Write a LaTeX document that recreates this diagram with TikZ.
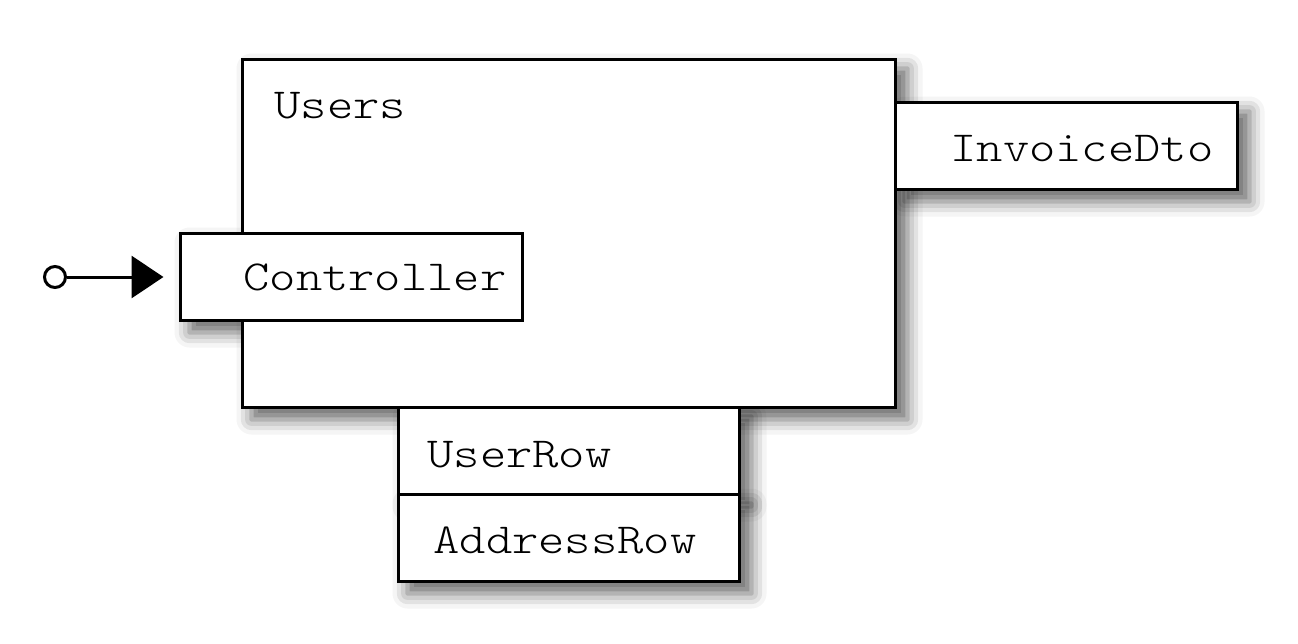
\documentclass[tikz,border=0pt]{standalone}
\usepackage{fontspec}
\newfontfamily\courfont[FakeStretch=1.17]{Latin Modern Mono Light}
\usetikzlibrary{arrows.meta,positioning,backgrounds,shadows.blur}

\begin{document}
\begin{tikzpicture}[x=1pt,y=-1pt,line width=3pt,
    box/.style={draw,fill=white,inner sep=0pt,minimum height=87pt},
    lbl/.style={anchor=base west,inner sep=0pt,font=\courfont\fontsize{42.8}{48}\selectfont},
    drop/.style={blur shadow={shadow xshift=11pt,shadow yshift=-11pt,shadow blur radius=15pt,shadow opacity=60}}]
  \useasboundingbox (0,0) rectangle (1298,643);
  \node[box,minimum width=653pt,minimum height=348pt] (users) at (568.5,233) {};
  \node[box,minimum width=342pt] (invoice) at (1066,145.5) {};
  \node[box,minimum width=342pt] (ctrl) at (351,276.5) {};
  \node[box,minimum width=341pt] (userrow) at (568.5,450.5) {};
  \node[box,minimum width=341pt] (addrrow) at (568.5,537.5) {};
  \node[lbl] (usersLbl) at (273,118) {Users};
  \node[lbl] (invoiceLbl) at (949,161) {InvoiceDto};
  \node[lbl] (ctrlLbl) at (242,290) {Controller};
  \node[lbl] (userrowLbl) at (426,467) {UserRow};
  \node[lbl] (addrrowLbl) at (432,553) {AddressRow};
  \node[draw,circle,fill=white,inner sep=0pt,minimum size=21pt] (src) at (55,277) {};
  \draw[-{Triangle[length=32pt,width=42pt]},shorten >=15pt] (src.east) -- (src.east -| ctrl.west);
  \begin{pgfonlayer}{background}
    \foreach \n in {users,invoice,ctrl,userrow,addrrow}
      \path[drop] (\n.north west) rectangle (\n.south east);
  \end{pgfonlayer}
\end{tikzpicture}
\end{document}
